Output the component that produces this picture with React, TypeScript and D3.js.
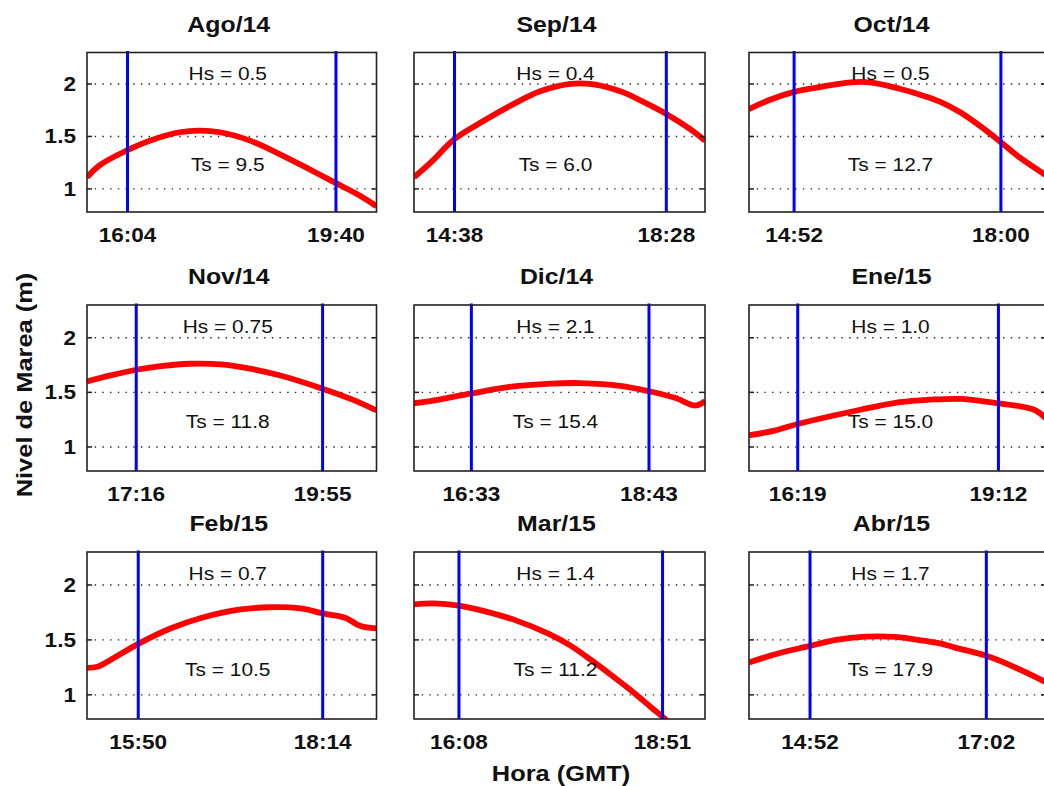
import React from "react";
import * as d3 from "d3";

// Monthly panels: title, significant wave height and period labels
const months = ["Ago/14", "Sep/14", "Oct/14", "Nov/14", "Dic/14", "Ene/15", "Feb/15", "Mar/15", "Abr/15"];
const hsLabels = ["0.5", "0.4", "0.5", "0.75", "2.1", "1.0", "0.7", "1.4", "1.7"];
const tsLabels = ["9.5", "6.0", "12.7", "11.8", "15.4", "15.0", "10.5", "11.2", "17.9"];

// Observation window (blue lines, also the x tick labels)
const windowStart = ["16:04", "14:38", "14:52", "17:16", "16:33", "16:19", "15:50", "16:08", "14:52"];
const windowEnd = ["19:40", "18:28", "18:00", "19:55", "18:43", "19:12", "18:14", "18:51", "17:02"];

// Time span shown on each panel's x axis (GMT)
const axisStart = ["15:22", "13:54", "14:11", "16:34", "15:51", "15:37", "15:10", "15:32", "14:07"];
const axisEnd = ["20:22", "19:10", "18:41", "20:41", "19:24", "19:53", "18:56", "19:25", "17:46"];

// Tide level (m) against time of day
const tideAgo14: [string, number][] = [
  ["15:22", 1.11], ["15:35", 1.225], ["16:04", 1.37], ["16:27", 1.46], ["16:58", 1.54], ["17:19", 1.555],
  ["17:40", 1.54], ["18:11", 1.46], ["18:42", 1.33], ["19:13", 1.185], ["19:40", 1.055], ["20:05", 0.935], ["20:22", 0.835],
];
const tideSep14: [string, number][] = [
  ["13:54", 1.11], ["14:12", 1.25], ["14:38", 1.475], ["15:06", 1.63], ["15:38", 1.79], ["16:11", 1.93],
  ["16:44", 2.0], ["17:05", 2.0], ["17:38", 1.93], ["18:03", 1.83], ["18:28", 1.715], ["18:54", 1.57], ["19:10", 1.46],
];
const tideOct14: [string, number][] = [
  ["14:11", 1.76], ["14:30", 1.85], ["14:52", 1.925], ["15:15", 1.97], ["15:43", 2.015], ["16:01", 2.015],
  ["16:28", 1.955], ["16:46", 1.9], ["17:05", 1.83], ["17:23", 1.73], ["17:41", 1.6], ["18:00", 1.445],
  ["18:17", 1.3], ["18:41", 1.13],
];
const tideNov14: [string, number][] = [
  ["16:34", 1.6], ["16:54", 1.655], ["17:16", 1.707], ["17:37", 1.74], ["18:02", 1.762], ["18:28", 1.756],
  ["18:53", 1.717], ["19:19", 1.655], ["19:55", 1.534], ["20:19", 1.44], ["20:41", 1.335],
];
const tideDic14: [string, number][] = [
  ["15:51", 1.4], ["16:03", 1.42], ["16:33", 1.49], ["17:01", 1.55], ["17:31", 1.58], ["17:53", 1.585],
  ["18:22", 1.56], ["18:43", 1.51], ["19:02", 1.45], ["19:17", 1.38], ["19:24", 1.42],
];
const tideEne15: [string, number][] = [
  ["15:37", 1.107], ["15:59", 1.15], ["16:19", 1.21], ["17:04", 1.32], ["17:47", 1.41], ["18:13", 1.433],
  ["18:39", 1.44], ["19:12", 1.4], ["19:31", 1.372], ["19:44", 1.335], ["19:53", 1.26],
];
const tideFeb15: [string, number][] = [
  ["15:10", 1.246], ["15:18", 1.255], ["15:28", 1.315], ["15:50", 1.464], ["16:15", 1.604], ["16:39", 1.7],
  ["17:10", 1.777], ["17:33", 1.797], ["17:57", 1.786], ["18:14", 1.741], ["18:32", 1.7], ["18:43", 1.628], ["18:56", 1.604],
];
const tideMar15: [string, number][] = [
  ["15:32", 1.824], ["15:48", 1.833], ["16:08", 1.812], ["16:29", 1.76], ["16:53", 1.68], ["17:20", 1.555],
  ["17:37", 1.45], ["17:54", 1.315], ["18:11", 1.17], ["18:28", 1.02], ["18:42", 0.885], ["18:51", 0.8], ["18:55", 0.76],
];
const tideAbr15: [string, number][] = [
  ["14:07", 1.294], ["14:29", 1.379], ["14:52", 1.445], ["15:11", 1.5], ["15:33", 1.53], ["15:55", 1.527],
  ["16:17", 1.49], ["16:28", 1.468], ["16:39", 1.43], ["17:02", 1.355], ["17:19", 1.273], ["17:46", 1.115],
];
const tideSeries = [tideAgo14, tideSep14, tideOct14, tideNov14, tideDic14, tideEne15, tideFeb15, tideMar15, tideAbr15];

const levelTicks = [1, 1.5, 2];
const levelTickLabels = ["1", "1.5", "2"];
const levelDomain: [number, number] = [0.78, 2.3];

const yTitle = "Nivel de Marea (m)";
const xTitle = "Hora (GMT)";

// Grid layout of the 3x3 panels
const colLeft = [87, 414, 749];
const colRight = [376.5, 705, 1046];
const rowTop = [52.5, 305, 552];
const rowBottom = [212, 471, 719];

const FONT = "'Liberation Sans', Arial, Helvetica, sans-serif";
const SX = 1.13; // horizontal stretch of the glyphs

const toMinutes = (s: string) => {
  const [h, m] = s.split(":").map(Number);
  return h * 60 + m;
};

function Txt(props: {
  x: number; y: number; size: number; bold?: boolean; anchor?: string; rotate?: number; children: React.ReactNode;
}) {
  const { x, y, size, bold, anchor = "middle", rotate = 0, children } = props;
  return (
    <text
      transform={`translate(${x},${y}) rotate(${rotate}) scale(${SX},1)`}
      fontFamily={FONT}
      fontSize={size}
      fontWeight={bold ? "bold" : "normal"}
      textAnchor={anchor}
      fill="#111"
    >
      {children}
    </text>
  );
}

function Panel({ i }: { i: number }) {
  const col = i % 3;
  const row = Math.floor(i / 3);
  const left = colLeft[col];
  const right = colRight[col];
  const top = rowTop[row];
  const bottom = rowBottom[row];

  const x = d3.scaleLinear().domain([toMinutes(axisStart[i]), toMinutes(axisEnd[i])]).range([left, right]);
  const y = d3.scaleLinear().domain(levelDomain).range([bottom, top]);

  const line = d3
    .line<[string, number]>()
    .x((d) => x(toMinutes(d[0])))
    .y((d) => y(d[1]))
    .curve(d3.curveCatmullRom.alpha(0.5));

  const clipId = `clip-${i}`;
  const cx = (left + Math.min(right, 1040)) / 2;
  const windows = [windowStart[i], windowEnd[i]];

  return (
    <g>
      <defs>
        <clipPath id={clipId}>
          <rect x={left} y={top} width={right - left} height={bottom - top} />
        </clipPath>
      </defs>
      <rect x={left} y={top} width={right - left} height={bottom - top} fill="#fff" />
      {levelTicks.map((v) => (
        <line
          key={v}
          x1={left}
          x2={right}
          y1={y(v)}
          y2={y(v)}
          stroke="#222"
          strokeWidth={1.4}
          strokeDasharray="1.4 6.3"
        />
      ))}
      <g clipPath={`url(#${clipId})`}>
        <path d={line(tideSeries[i]) || ""} fill="none" stroke="#ff0000" strokeWidth={5.8} strokeLinejoin="round" />
      </g>
      {windows.map((t) => (
        <line key={t} x1={x(toMinutes(t))} x2={x(toMinutes(t))} y1={top - 1.5} y2={bottom} stroke="#0000ff" strokeWidth={3} />
      ))}
      {levelTicks.map((v) => (
        <g key={`t${v}`}>
          <line x1={left} x2={left + 5} y1={y(v)} y2={y(v)} stroke="#222" strokeWidth={1.5} />
          <line x1={right - 5} x2={right} y1={y(v)} y2={y(v)} stroke="#222" strokeWidth={1.5} />
        </g>
      ))}
      <rect x={left} y={top} width={right - left} height={bottom - top} fill="none" stroke="#222" strokeWidth={1.6} />
      <Txt x={cx - 4} y={y(2.1) + 6.5} size={18.5}>{`Hs = ${hsLabels[i]}`}</Txt>
      <Txt x={cx - 4} y={y(1.23) + 6.5} size={18.5}>{`Ts = ${tsLabels[i]}`}</Txt>
      <Txt x={cx - 3} y={top - 21} size={22} bold>{months[i]}</Txt>
      {windows.map((t) => (
        <Txt key={`l${t}`} x={x(toMinutes(t))} y={bottom + 29.5} size={20} bold>{t}</Txt>
      ))}
      {col === 0 &&
        levelTicks.map((v, k) => (
          <Txt key={`y${v}`} x={left - 11} y={y(v) + 7} size={20} bold anchor="end">{levelTickLabels[k]}</Txt>
        ))}
    </g>
  );
}

export default function App() {
  return (
    <svg
      width={1044}
      height={786}
      viewBox="0 0 1044 786"
      style={{ position: "absolute", left: 0, top: 0, display: "block", background: "#fff" }}
    >
      <rect x={0} y={0} width={1044} height={786} fill="#fff" />
      {months.map((_, i) => (
        <Panel key={i} i={i} />
      ))}
      <Txt x={32} y={385} size={22.5} bold rotate={-90}>{yTitle}</Txt>
      <Txt x={561} y={781} size={22.5} bold>{xTitle}</Txt>
    </svg>
  );
}
